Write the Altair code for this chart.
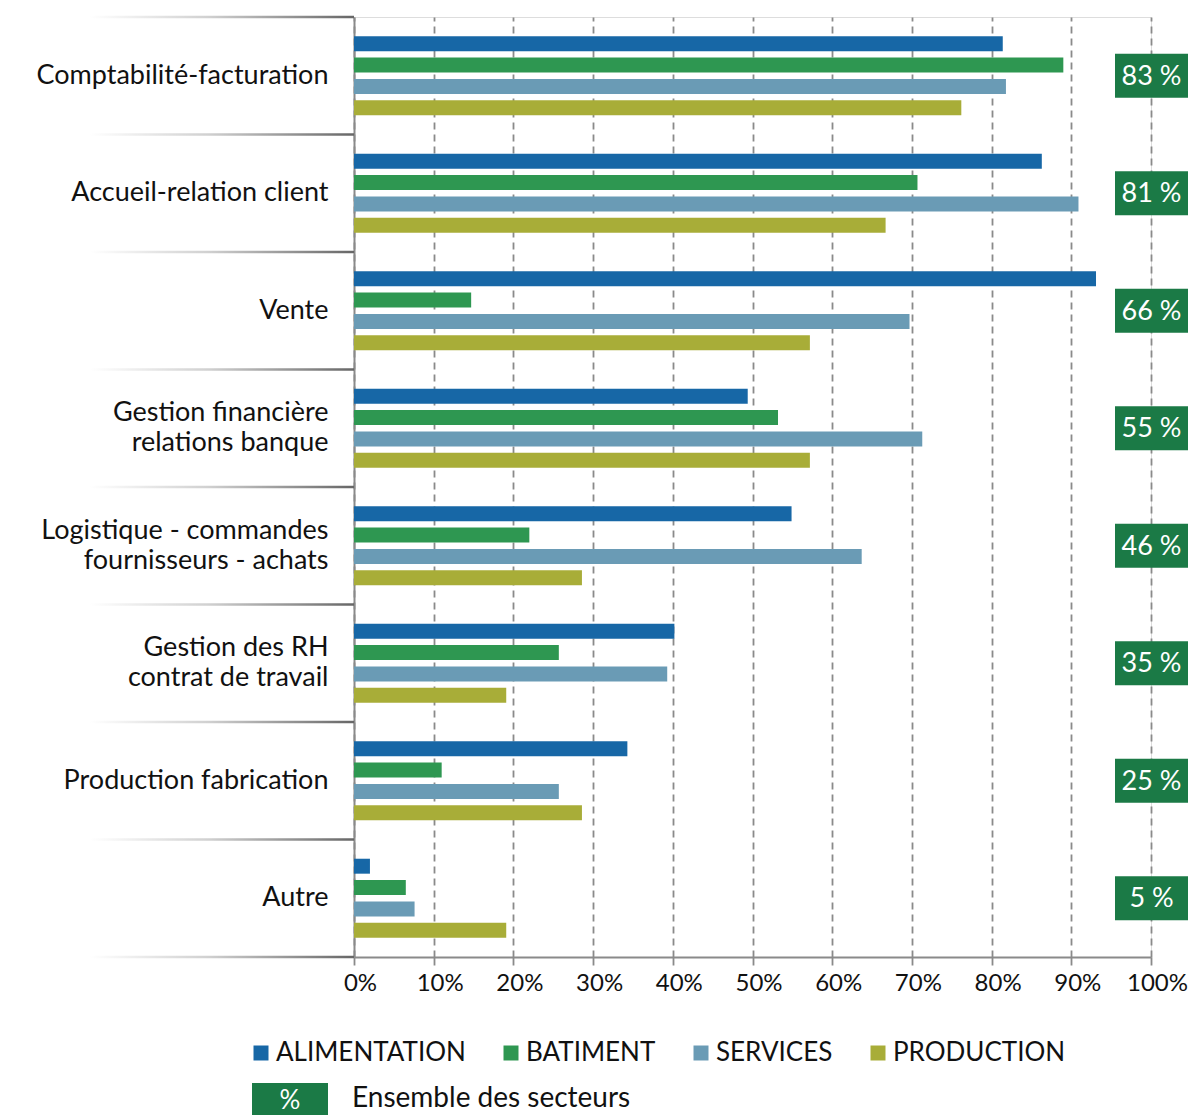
import altair as alt
import pandas as pd

categories = [
    "Comptabilité-facturation",
    "Accueil-relation client",
    "Vente",
    "Gestion financière|relations banque",
    "Logistique - commandes|fournisseurs - achats",
    "Gestion des RH|contrat de travail",
    "Production fabrication",
    "Autre",
]
series = ["ALIMENTATION", "BATIMENT", "SERVICES", "PRODUCTION"]
alimentation = [81.4, 86.3, 93.1, 49.4, 54.9, 40.2, 34.3, 2.0]
batiment = [89.0, 70.7, 14.7, 53.2, 22.0, 25.7, 11.0, 6.5]
services = [81.8, 90.9, 69.7, 71.3, 63.7, 39.3, 25.7, 7.6]
production = [76.2, 66.7, 57.2, 57.2, 28.6, 19.1, 28.6, 19.1]
ensemble = [83, 81, 66, 55, 46, 35, 25, 5]
colors = ["#1767A6", "#2E9751", "#6A9BB5", "#A8AD38"]
box_color = "#1B7A46"
FONT = "Lato"

rows = []
for s, vals in zip(series, [alimentation, batiment, services, production]):
    for c, v in zip(categories, vals):
        rows.append({"cat": c, "serie": s, "value": v})
df = pd.DataFrame(rows)

df_ens = pd.DataFrame({"cat": categories, "ens": ensemble,
                       "label": [f"{v} %" for v in ensemble]})
df_sep = pd.DataFrame({"cat": categories})
df_last = pd.DataFrame({"cat": [categories[-1]]})

W, H = 797, 940

yscale = alt.Scale(domain=categories, paddingInner=0, paddingOuter=0)

bars = alt.Chart(df).mark_bar().encode(
    x=alt.X("value:Q", scale=alt.Scale(domain=[0, 100]),
            axis=alt.Axis(values=list(range(0, 101, 10)), labelExpr="datum.value + '%'",
                          title=None, grid=True, gridDash=[7, 5], gridColor="#8a8a8a",
                          gridWidth=1.8, domainColor="#8a8a8a", domainWidth=2,
                          tickColor="#8a8a8a", tickSize=8, tickWidth=1.8,
                          labelFontSize=24, labelFont=FONT, labelColor="#111",
                          labelPadding=6, labelOffset=6, labelFlush=False)),
    y=alt.Y("cat:N", scale=yscale, sort=categories,
            axis=alt.Axis(title=None, ticks=False, domainColor="#8a8a8a", domainWidth=2,
                          labelExpr="split(datum.label, '|')", labelFontSize=27,
                          labelFont=FONT, labelColor="#111", labelPadding=26,
                          labelLineHeight=30, labelLimit=0, grid=False,
                          labelBaseline={"condition": {"test": "indexof(datum.value, '|') >= 0",
                                                       "value": "line-bottom"},
                                         "value": "middle"})),
    yOffset=alt.YOffset("serie:N", sort=series,
                        scale=alt.Scale(domain=series, paddingInner=0.3, paddingOuter=0.9)),
    color=alt.Color("serie:N", sort=series,
                    scale=alt.Scale(domain=series, range=colors),
                    legend=alt.Legend(title=None, orient="none", legendX=-106, legendY=1023,
                                      direction="horizontal", symbolType="square",
                                      symbolSize=225, symbolStrokeWidth=0,
                                      labelFontSize=26, labelFont=FONT, labelColor="#111",
                                      labelLimit=0, columnPadding=32, labelOffset=2)),
)

grad = alt.LinearGradient(
    gradient="linear", x1=0, x2=1, y1=0, y2=0,
    stops=[alt.GradientStop(offset=0, color="#ffffff"),
           alt.GradientStop(offset=0.45, color="#d0d0d0"),
           alt.GradientStop(offset=1, color="#666666")],
)

sep = alt.Chart(df_sep).mark_tick(orient="horizontal", size=264, thickness=2.5,
                                  color=grad, opacity=1).encode(
    y=alt.Y("cat:N", scale=yscale, sort=categories, bandPosition=0),
    x=alt.value(-132),
)
sep_last = alt.Chart(df_last).mark_tick(orient="horizontal", size=264, thickness=2.5,
                                        color=grad, opacity=1).encode(
    y=alt.Y("cat:N", scale=yscale, sort=categories, bandPosition=1),
    x=alt.value(-132),
)

ens_box = alt.Chart(df_ens).mark_bar(size=44, color=box_color).encode(
    y=alt.Y("cat:N", scale=yscale, sort=categories),
    x=alt.value(761), x2=alt.value(834),
)
ens_txt = alt.Chart(df_ens).mark_text(color="white", fontSize=27, font=FONT,
                                      align="center", baseline="middle", dy=1).encode(
    y=alt.Y("cat:N", scale=yscale, sort=categories),
    x=alt.value(797.5),
    text="label:N",
)

leg_df = pd.DataFrame({"t": ["%"], "u": ["Ensemble des secteurs"]})
leg_box = alt.Chart(leg_df).mark_rect(color=box_color).encode(
    x=alt.value(-102), x2=alt.value(-26), y=alt.value(1066), y2=alt.value(1104))
leg_pct = alt.Chart(leg_df).mark_text(color="white", fontSize=26, font=FONT,
                                      align="center", baseline="middle").encode(
    x=alt.value(-64), y=alt.value(1084), text="t:N")
leg_txt = alt.Chart(leg_df).mark_text(color="#111", fontSize=28, font=FONT,
                                      align="left", baseline="middle").encode(
    x=alt.value(-2), y=alt.value(1082), text="u:N")

chart = alt.layer(bars, sep, sep_last, ens_box, ens_txt, leg_box, leg_pct, leg_txt).properties(
    width=W, height=H,
    autosize=alt.AutoSizeParams(type="none"),
    padding={"left": 346, "top": 9, "right": 37, "bottom": 158},
).configure_view(stroke=None).configure(background="white")

chart.save("out.html", embed_options={"renderer": "svg", "actions": False})
